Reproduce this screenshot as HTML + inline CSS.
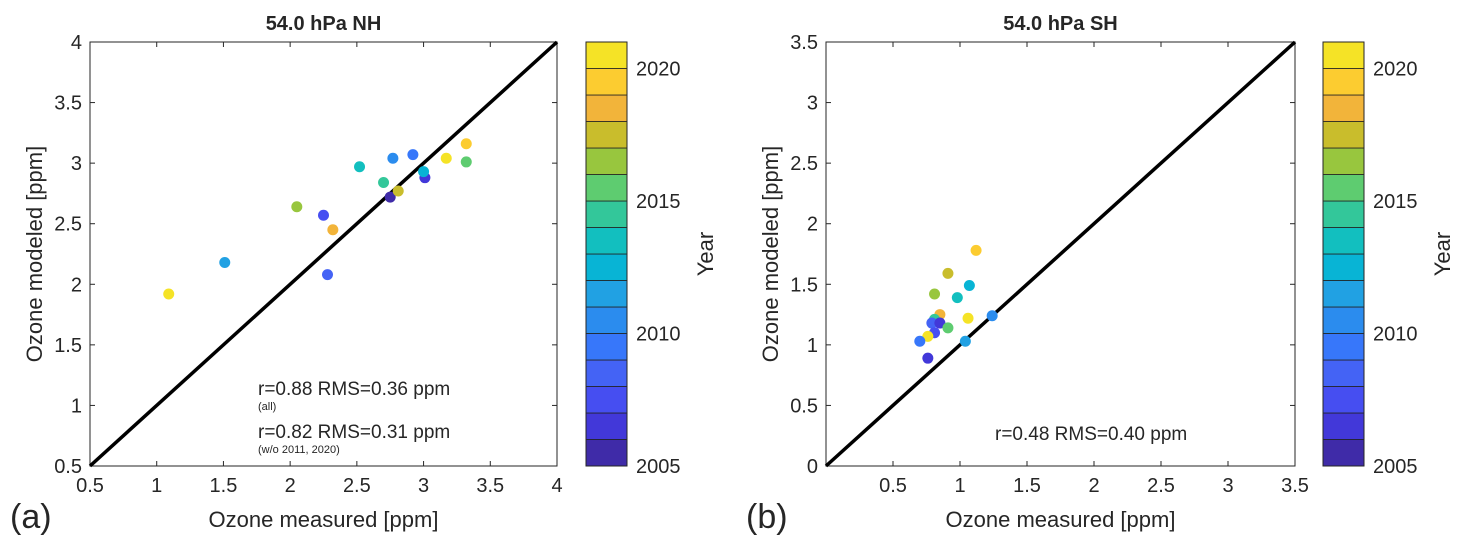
<!DOCTYPE html>
<html><head><meta charset="utf-8"><style>
body{margin:0;background:#fff;}
svg text{font-family:"Liberation Sans",sans-serif;fill:#262626;}
</style></head><body>
<svg id="s" width="1468" height="546" xmlns="http://www.w3.org/2000/svg"></svg>
<script>
const nhX=[1.09,1.51,2.05,2.25,2.32,2.28,2.52,2.70,2.77,2.92,2.75,2.81,3.01,3.00,3.17,3.32,3.32];
const nhY=[1.92,2.18,2.64,2.57,2.45,2.08,2.97,2.84,3.04,3.07,2.72,2.77,2.88,2.93,3.04,3.16,3.01];
const nhYear=[2020,2011,2016,2007,2018,2008,2013,2014,2010,2009,2005,2017,2006,2012,2020,2019,2015];
const shX=[1.12,0.91,0.81,1.07,0.98,0.85,0.81,0.79,0.85,0.91,1.06,1.24,0.81,0.76,0.70,1.04,0.76];
const shY=[1.78,1.59,1.42,1.49,1.39,1.25,1.21,1.18,1.18,1.14,1.22,1.24,1.10,1.07,1.03,1.03,0.89];
const shYear=[2019,2017,2016,2012,2013,2018,2014,2008,2006,2015,2020,2010,2007,2020,2009,2011,2006];
const nhTicks=[0.5,1,1.5,2,2.5,3,3.5,4];
const shXTicks=[0.5,1,1.5,2,2.5,3,3.5];
const shYTicks=[0,0.5,1,1.5,2,2.5,3,3.5];
const cbTicks=[2005,2010,2015,2020];
const parula=['#3f2ba8','#4238d9','#464ef1','#4463f5','#3777fa','#2b8cee','#21a1e3','#08b4d5','#12bfbf','#33c79a','#5ecc70','#98c63e','#c9bd2c','#f2b43a','#fccc30','#f5e326'];
const S=document.getElementById('s'),NS='http://www.w3.org/2000/svg';
function el(t,a,txt){const e=document.createElementNS(NS,t);for(const k in a)e.setAttribute(k,a[k]);if(txt!==undefined)e.textContent=txt;S.appendChild(e);return e;}
function col(y){let i=Math.floor(y-2005);return parula[Math.max(0,Math.min(15,i))];}
function panel(p){
  const {x0,x1,y0,y1,xmin,xmax,ymin,ymax,xt,yt,X,Y,Yr,title,lab,cbx,tag}=p;
  const sx=v=>x0+(v-xmin)/(xmax-xmin)*(x1-x0), sy=v=>y1-(v-ymin)/(ymax-ymin)*(y1-y0);
  let e=el('rect',{x:x0,y:y0,width:x1-x0,height:y1-y0,fill:'#fff',stroke:'#262626','stroke-width':1});
  
  xt.forEach(v=>{el('line',{x1:sx(v),x2:sx(v),y1:y1,y2:y1-5,stroke:'#262626'});el('line',{x1:sx(v),x2:sx(v),y1:y0,y2:y0+5,stroke:'#262626'});
    e=el('text',{x:sx(v),y:y1+26,'font-size':20,'text-anchor':'middle'},String(v));});
  yt.forEach(v=>{el('line',{x1:x0,x2:x0+5,y1:sy(v),y2:sy(v),stroke:'#262626'});el('line',{x1:x1,x2:x1-5,y1:sy(v),y2:sy(v),stroke:'#262626'});
    e=el('text',{x:x0-8,y:sy(v)+7,'font-size':20,'text-anchor':'end'},String(v));});
  const lo=Math.max(xmin,ymin),hi=Math.min(xmax,ymax);
  e=el('line',{x1:sx(lo),y1:sy(lo),x2:sx(hi),y2:sy(hi),stroke:'#000','stroke-width':3.5});
  
  X.forEach((v,i)=>{e=el('circle',{cx:sx(v),cy:sy(Y[i]),r:5.5,fill:col(Yr[i])});
    });
  e=el('text',{x:(x0+x1)/2,y:30,'font-size':20,'font-weight':'bold','text-anchor':'middle',fill:'#000'},title);
  
  e=el('text',{x:(x0+x1)/2,y:527,'font-size':22,'text-anchor':'middle'},'Ozone measured [ppm]');
  
  e=el('text',{x:0,y:0,'font-size':22,'text-anchor':'middle',transform:`translate(${x0-48},${(y0+y1)/2}) rotate(-90)`},'Ozone modeled [ppm]');
  
  e=el('text',{x:x0-80,y:528,'font-size':34,fill:'#000'},lab);
  
  const h=(y1-y0)/16;
  parula.forEach((c,i)=>{e=el('rect',{x:cbx,y:y1-(i+1)*h,width:41,height:h,fill:c,stroke:'#222','stroke-width':0.8});
    });
  el('rect',{x:cbx,y:y0,width:41,height:y1-y0,fill:'none',stroke:'#262626'});
  cbTicks.forEach(v=>{const yy=y1-(v-2005)*h;e=el('text',{x:cbx+50,y:yy+7,'font-size':20},String(v));
    });
  e=el('text',{x:0,y:0,'font-size':22,'text-anchor':'middle',transform:`translate(${cbx+127},254) rotate(-90)`},'Year');
  
}
panel({x0:90,x1:557,y0:42,y1:466,xmin:0.5,xmax:4,ymin:0.5,ymax:4,xt:nhTicks,yt:nhTicks,X:nhX,Y:nhY,Yr:nhYear,title:'54.0 hPa NH',lab:'(a)',cbx:586,tag:'nh'});
panel({x0:826,x1:1295,y0:42,y1:466,xmin:0,xmax:3.5,ymin:0,ymax:3.5,xt:shXTicks,yt:shYTicks,X:shX,Y:shY,Yr:shYear,title:'54.0 hPa SH',lab:'(b)',cbx:1323,tag:'sh'});
function t(x,y,s,txt,n){const e=el('text',{x:x,y:y,'font-size':s,fill:'#000'},txt);}
t(258,395,19,'r=0.88 RMS=0.36 ppm','nh-stats-all');
t(258,410,11,'(all)','nh-stats-all-note');
t(258,438,19,'r=0.82 RMS=0.31 ppm','nh-stats-subset');
t(258,453,11,'(w/o 2011, 2020)','nh-stats-subset-note');
t(995,440,19,'r=0.48 RMS=0.40 ppm','sh-stats');
</script>
</body></html>
